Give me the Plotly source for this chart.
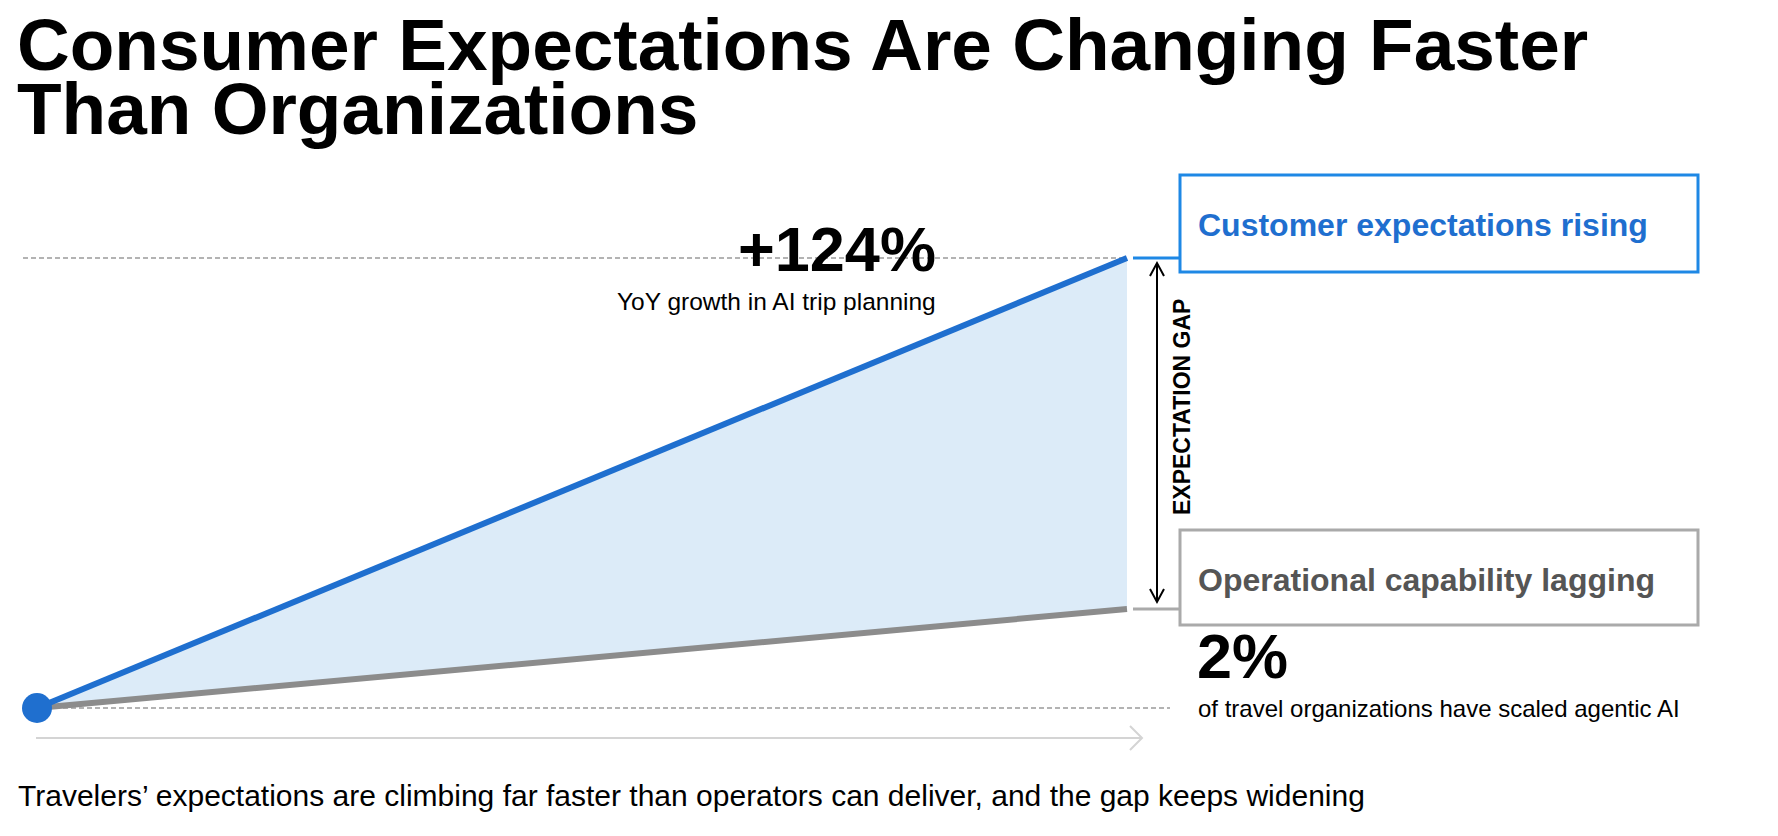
import plotly.graph_objects as go

# conceptual chart: index of expectations vs capability over time
stages = [0, 10]
expectations = [0, 100]
capability = [0, 22]

title_lines = ["Consumer Expectations Are Changing Faster", "Than Organizations"]
top_stat = "+124%"
top_stat_label = "YoY growth in AI trip planning"
bottom_stat = "2%"
bottom_stat_label = "of travel organizations have scaled agentic AI"
top_box_label = "Customer expectations rising"
bottom_box_label = "Operational capability lagging"
gap_label = "EXPECTATION GAP"
footer = "Travelers\u2019 expectations are climbing far faster than operators can deliver, and the gap keeps widening"

W, H = 1778, 836
BLUE = "#1f6fcf"
BOX_BLUE = "#1e88e5"
GREY = "#8c8c8c"
BOX_GREY = "#aaaaaa"
FONT = "Liberation Sans, Arial, sans-serif"

# pixel -> data helpers (plot area covers the whole page)
X0, XS = 37, 109.0
Y0, YS = 708, 4.5


def dx(p):
    return (p - X0) / XS


def dy(p):
    return (Y0 - p) / YS


def px(p):
    return p / W


def py(p):
    return 1 - p / H


fig = go.Figure()

# shaded gap between the two lines
fig.add_trace(go.Scatter(x=stages, y=capability, mode="lines", line=dict(width=0), hoverinfo="skip"))
fig.add_trace(go.Scatter(x=stages, y=expectations, mode="lines", line=dict(width=0),
                         fill="tonexty", fillcolor="#dcebf8", hoverinfo="skip"))

# dotted guides at top and bottom
fig.add_shape(type="line", x0=dx(23), x1=stages[-1], y0=expectations[-1], y1=expectations[-1],
              line=dict(color="#9a9a9a", width=1.5, dash="5px,3px"), layer="below")
fig.add_shape(type="line", x0=dx(23), x1=dx(1170), y0=capability[0], y1=capability[0],
              line=dict(color="#9a9a9a", width=1.5, dash="5px,3px"), layer="below")

fig.add_trace(go.Scatter(x=stages, y=capability, mode="lines", line=dict(color=GREY, width=6)))
fig.add_trace(go.Scatter(x=stages, y=expectations, mode="lines", line=dict(color=BLUE, width=6)))
fig.add_trace(go.Scatter(x=stages[:1], y=expectations[:1], mode="markers",
                         marker=dict(color=BLUE, size=30)))

# time axis arrow
ya = dy(738)
fig.add_shape(type="line", x0=dx(36), x1=dx(1142), y0=ya, y1=ya,
              line=dict(color="#d4d4d4", width=2))
fig.add_shape(type="path",
              path=f"M {dx(1130)} {dy(726)} L {dx(1142)} {ya} L {dx(1130)} {dy(750)}",
              line=dict(color="#d4d4d4", width=2))

# connectors to boxes
fig.add_shape(type="line", x0=dx(1133), x1=dx(1179), y0=expectations[-1], y1=expectations[-1],
              line=dict(color=BOX_BLUE, width=3))
fig.add_shape(type="line", x0=dx(1133), x1=dx(1179), y0=capability[-1], y1=capability[-1],
              line=dict(color=BOX_GREY, width=3))

# gap arrow
ax = dx(1157)
top, bot = dy(263), dy(602)
fig.add_shape(type="line", x0=ax, x1=ax, y0=top, y1=bot, line=dict(color="black", width=2))
fig.add_shape(type="path", path=f"M {dx(1150)} {dy(276)} L {ax} {top} L {dx(1164)} {dy(276)}",
              line=dict(color="black", width=2))
fig.add_shape(type="path", path=f"M {dx(1150)} {dy(589)} L {ax} {bot} L {dx(1164)} {dy(589)}",
              line=dict(color="black", width=2))

# label boxes
fig.add_shape(type="rect", xref="paper", yref="paper",
              x0=px(1180), x1=px(1698), y0=py(175), y1=py(272),
              line=dict(color=BOX_BLUE, width=3), fillcolor="white")
fig.add_shape(type="rect", xref="paper", yref="paper",
              x0=px(1180), x1=px(1698), y0=py(530), y1=py(625),
              line=dict(color=BOX_GREY, width=3), fillcolor="white")


def text(s, x, y, size, color="black", bold=False, xanchor="left", angle=0):
    fig.add_annotation(text=f"<b>{s}</b>" if bold else s, xref="paper", yref="paper",
                       x=px(x), y=py(y), xanchor=xanchor, yanchor="middle",
                       showarrow=False, textangle=angle, borderpad=0, borderwidth=0,
                       font=dict(family=FONT, size=size, color=color))


# title lines set with tight leading like the reference
text(title_lines[0], 17, 45, 73, bold=True)
text(title_lines[1], 17, 109, 73, bold=True)
text(top_stat, 936, 249, 63, bold=True, xanchor="right")
text(top_stat_label, 936, 301, 24.5, xanchor="right")
text(top_box_label, 1198, 225, 32, color=BLUE, bold=True)
text(bottom_box_label, 1198, 580, 32, color="#555555", bold=True)
text(bottom_stat, 1197, 656, 63, bold=True)
text(bottom_stat_label, 1198, 708, 24)
text(gap_label, 1182, 407, 23, bold=True, xanchor="center", angle=-90)
text(footer, 18, 795, 30)

fig.update_xaxes(range=[dx(0), dx(W)], visible=False, fixedrange=True)
fig.update_yaxes(range=[dy(H), dy(0)], visible=False, fixedrange=True)
fig.update_layout(width=W, height=H, margin=dict(l=0, r=0, t=0, b=0),
                  plot_bgcolor="white", paper_bgcolor="white", showlegend=False)

# drop the default page margin so the figure fills the window exactly
fig.write_html("out.html", config={"displayModeBar": False},
               post_script="document.body.style.margin = '0';")
